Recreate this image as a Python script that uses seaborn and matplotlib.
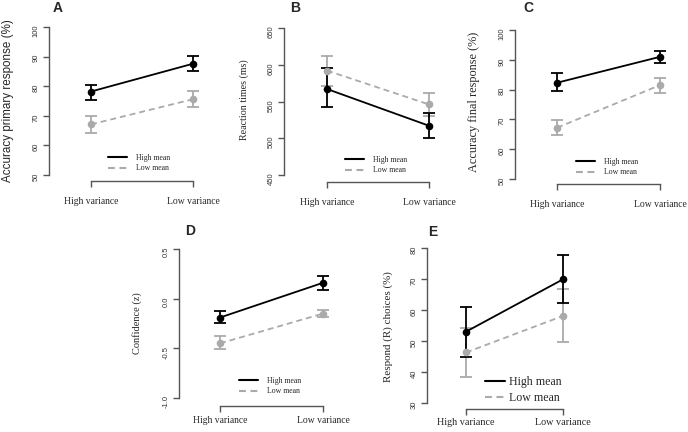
import pandas as pd
import seaborn as sns
import matplotlib.pyplot as plt
from matplotlib.lines import Line2D

sns.set_theme(style="ticks")
plt.rcParams["font.family"] = ["Liberation Serif", "DejaVu Serif"]

W, H = 688, 432
SANS = "Liberation Sans"
AXIS_COLOR = "#555555"
HIGH_COLOR = "black"
LOW_COLOR = "#aaaaaa"

conditions = ["High variance", "Low variance"]
groups = ["High mean", "Low mean"]

# A: accuracy primary response (%)
acc1_high = [78.2, 87.6]
acc1_high_lo = [75.5, 85.3]
acc1_high_hi = [80.5, 90.1]
acc1_low = [67.1, 75.6]
acc1_low_lo = [64.3, 72.9]
acc1_low_hi = [69.8, 78.3]

# B: reaction times (ms)
rt_high = [567, 517]
rt_high_lo = [542, 501]
rt_high_hi = [595, 535]
rt_low = [592, 546]
rt_low_lo = [571, 530]
rt_low_hi = [612, 562]

# C: accuracy final response (%)
acc2_high = [82.3, 91.0]
acc2_high_lo = [79.6, 89.0]
acc2_high_hi = [85.5, 93.0]
acc2_low = [67.2, 81.5]
acc2_low_lo = [64.8, 79.0]
acc2_low_hi = [69.8, 84.0]

# D: confidence (z)
conf_high = [-0.19, 0.16]
conf_high_lo = [-0.245, 0.09]
conf_high_hi = [-0.12, 0.225]
conf_low = [-0.45, -0.15]
conf_low_lo = [-0.51, -0.18]
conf_low_hi = [-0.38, -0.11]

# E: respond (R) choices (%)
resp_high = [53.0, 69.9]
resp_high_lo = [45.0, 62.2]
resp_high_hi = [60.9, 77.6]
resp_low = [46.3, 58.1]
resp_low_lo = [38.5, 49.8]
resp_low_hi = [54.2, 66.8]


def fx(px):
    return px / W


def fy(py):
    return 1 - py / H


fig = plt.figure(figsize=(W / 100, H / 100), dpi=100)


def draw_panel(letter, lay, ylim, yticks, ytick_labels, ylabel,
               high, high_lo, high_hi, low, low_lo, low_hi):
    ax_x, top, bottom, c0, c1, right = lay["box"]
    ax = fig.add_axes([fx(ax_x), fy(bottom), (right - ax_x) / W, (bottom - top) / H])
    d = c1 - c0
    ax.set_xlim((ax_x - c0) / d, (right - c0) / d)
    ax.set_ylim(*ylim)

    df = pd.DataFrame({
        "x": [0, 1, 0, 1],
        "value": high + low,
        "group": [groups[0]] * 2 + [groups[1]] * 2,
    })
    # error bars first, so the points sit on top
    for m, lo, hi, col in [(low, low_lo, low_hi, LOW_COLOR),
                           (high, high_lo, high_hi, HIGH_COLOR)]:
        yerr = [[a - b for a, b in zip(m, lo)], [b - a for a, b in zip(m, hi)]]
        ax.errorbar([0, 1], m, yerr=yerr, fmt="none", ecolor=col,
                    elinewidth=1.3, capsize=4.6, capthick=1.3, zorder=2)
    sns.lineplot(data=df, x="x", y="value", hue="group", style="group",
                 palette={groups[0]: HIGH_COLOR, groups[1]: LOW_COLOR},
                 dashes={groups[0]: "", groups[1]: (3.3, 2.2)},
                 markers={groups[0]: "o", groups[1]: "o"},
                 markersize=5.5, markeredgewidth=0, linewidth=1.3,
                 legend=False, ax=ax, zorder=3)

    # R-style axes: detached bracket at the bottom, rotated y tick labels
    for s in ["top", "right"]:
        ax.spines[s].set_visible(False)
    ax.spines["left"].set_color(AXIS_COLOR)
    ax.spines["bottom"].set_color(AXIS_COLOR)
    ax.spines["left"].set_linewidth(1)
    ax.spines["bottom"].set_linewidth(1)
    ax.spines["bottom"].set_position(("outward", lay["gap"] * 0.72))
    ax.spines["bottom"].set_bounds(0, 1)

    ax.set_xticks([0, 1])
    ax.set_xticklabels(conditions)
    ax.set_yticks(yticks)
    ax.set_yticklabels(ytick_labels)
    ax.tick_params(axis="y", direction="out", length=4.3, width=1,
                   color=AXIS_COLOR, labelsize=5.5, labelrotation=90, pad=2.5,
                   labelcolor="#333333")
    ax.tick_params(axis="x", direction="out", length=4.3, width=1,
                   color=AXIS_COLOR, labelsize=lay["xfs"], pad=lay["xpad"])
    for t in ax.get_yticklabels():
        t.set_fontfamily(SANS)
    ax.set_xlabel("")
    ax.set_ylabel("")
    ax.grid(False)

    fig.text(fx(lay["ylab"][0]), fy(lay["ylab"][1]), ylabel, rotation=90,
             ha="center", va="center", fontsize=lay["ylfs"],
             family=lay.get("ylfam", "Liberation Serif"))
    fig.text(fx(lay["letter"][0]), fy(lay["letter"][1]), letter,
             ha="center", va="center", fontsize=10, fontweight="bold", family=SANS)

    handles = [Line2D([], [], color=HIGH_COLOR, lw=1.5),
               Line2D([], [], color=LOW_COLOR, lw=1.5, dashes=(3.3, 2.2))]
    lx, ly = lay["legend"]
    ax.legend(handles, groups, loc="center left",
              bbox_to_anchor=(fx(lx), fy(ly)), bbox_transform=fig.transFigure,
              frameon=False, borderpad=0, borderaxespad=0,
              fontsize=lay["lfs"], handlelength=lay["hl"],
              handletextpad=lay["htp"], labelspacing=0.35)
    return ax


layouts = {
    "A": dict(box=(49, 27, 175, 91, 193, 218), gap=6, xfs=6.9, xpad=7,
              ylab=(8, 101), ylfs=8.4, ylfam=SANS, letter=(58, 8),
              legend=(108, 163), lfs=5.6, hl=2.5, htp=1.1),
    "B": dict(box=(284, 28, 175, 327, 429, 455), gap=7, xfs=6.9, xpad=7,
              ylab=(244, 100), ylfs=7.2, letter=(295, 8),
              legend=(345, 165), lfs=5.6, hl=2.5, htp=1.1),
    "C": dict(box=(515, 30, 179, 557, 660, 685), gap=5, xfs=6.9, xpad=7,
              ylab=(474, 102), ylfs=8.8, letter=(528, 8),
              legend=(576, 167), lfs=5.6, hl=2.5, htp=1.1),
    "D": dict(box=(179, 249, 398, 220, 323, 350), gap=8, xfs=6.9, xpad=3,
              ylab=(137, 323), ylfs=7.5, letter=(190, 231),
              legend=(239, 386), lfs=5.6, hl=2.5, htp=1.1),
    "E": dict(box=(427, 248, 403, 466, 563, 590), gap=6, xfs=7.3, xpad=2.5,
              ylab=(388, 327), ylfs=7.9, letter=(433, 232),
              legend=(485, 390), lfs=8.6, hl=1.7, htp=0.3),
}

draw_panel("A", layouts["A"], (50, 100), list(range(50, 101, 10)),
           [str(v) for v in range(50, 101, 10)],
           "Accuracy primary response (%)",
           acc1_high, acc1_high_lo, acc1_high_hi, acc1_low, acc1_low_lo, acc1_low_hi)
draw_panel("B", layouts["B"], (450, 650), list(range(450, 651, 50)),
           [str(v) for v in range(450, 651, 50)],
           "Reaction times (ms)",
           rt_high, rt_high_lo, rt_high_hi, rt_low, rt_low_lo, rt_low_hi)
draw_panel("C", layouts["C"], (50, 100), list(range(50, 101, 10)),
           [str(v) for v in range(50, 101, 10)],
           "Accuracy final response (%)",
           acc2_high, acc2_high_lo, acc2_high_hi, acc2_low, acc2_low_lo, acc2_low_hi)
draw_panel("D", layouts["D"], (-1.0, 0.5), [-1.0, -0.5, 0.0, 0.5],
           ["-1.0", "-0.5", "0.0", "0.5"],
           "Confidence (z)",
           conf_high, conf_high_lo, conf_high_hi, conf_low, conf_low_lo, conf_low_hi)
draw_panel("E", layouts["E"], (30, 80), list(range(30, 81, 10)),
           [str(v) for v in range(30, 81, 10)],
           "Respond (R) choices (%)",
           resp_high, resp_high_lo, resp_high_hi, resp_low, resp_low_lo, resp_low_hi)

fig.savefig("out.png", dpi=100, facecolor="white")
